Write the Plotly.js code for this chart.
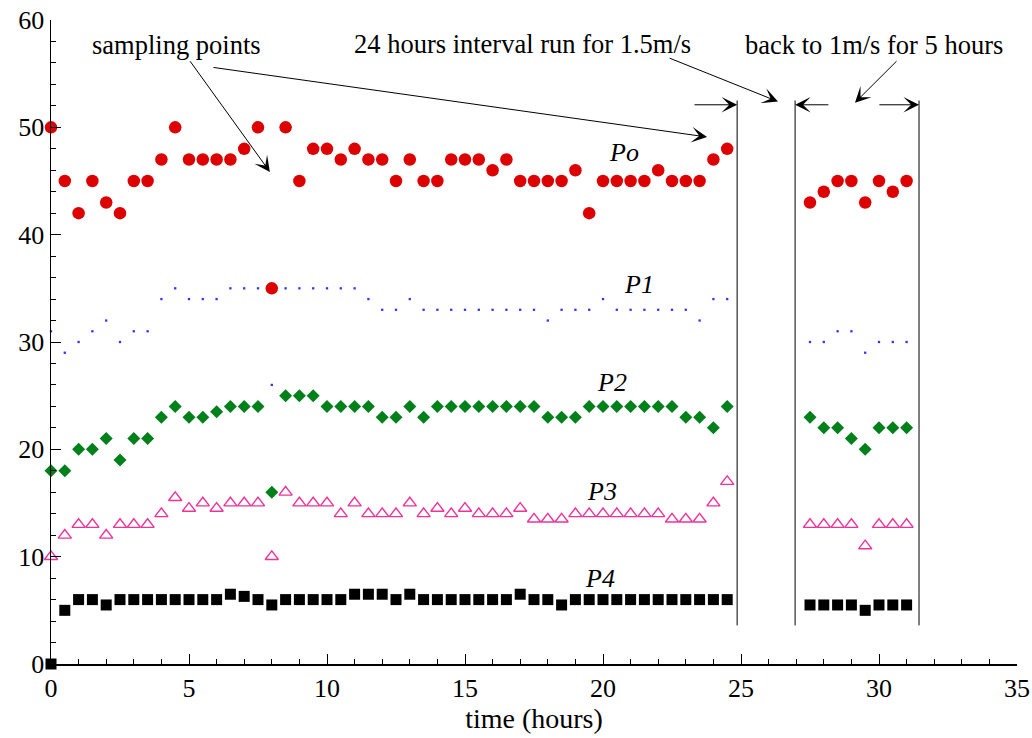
<!DOCTYPE html>
<html>
<head>
<meta charset="utf-8">
<script src="https://cdn.plot.ly/plotly-3.0.1.min.js"></script>
<style>html,body{margin:0;padding:0;background:#fff;}#chart{width:1032px;height:738px;}</style>
</head>
<body>
<div id="chart"></div>
<script>
// time (hours) – first run and second run
const timeA = [0,0.5,1,1.5,2,2.5,3,3.5,4,4.5,5,5.5,6,6.5,7,7.5,8,8.5,9,9.5,10,10.5,11,11.5,12,12.5,13,13.5,14,14.5,15,15.5,16,16.5,17,17.5,18,18.5,19,19.5,20,20.5,21,21.5,22,22.5,23,23.5,24,24.5];
const timeB = [27.5,28,28.5,29,29.5,30,30.5,31];

const PoA = [50,45,42,45,43,42,45,45,47,50,47,47,47,47,48,50,35,50,45,48,48,47,48,47,47,45,47,45,45,47,47,47,46,47,45,45,45,45,46,42,45,45,45,45,46,45,45,45,47,48];
const PoB = [43,44,45,45,43,45,44,45];

const P1A = [31,29,30,31,32,30,31,31,34,35,34,34,34,35,35,35,26,35,35,35,35,35,35,34,33,33,34,33,33,33,33,33,33,33,33,33,32,33,33,33,34,33,33,33,33,33,33,32,34,34];
const P1B = [30,30,31,31,29,30,30,30];

const P2A = [18,18,20,20,21,19,21,21,23,24,23,23,23.5,24,24,24,16,25,25,25,24,24,24,24,23,23,24,23,24,24,24,24,24,24,24,24,23,23,23,24,24,24,24,24,24,24,23,23,22,24];
const P2B = [23,22,22,21,20,22,22,22];

const P3A = [10,12,13,13,12,13,13,13,14,15.5,14.5,15,14.5,15,15,15,10,16,15,15,15,14,15,14,14,14,15,14,14.5,14,14.5,14,14,14,14.5,13.5,13.5,13.5,14,14,14,14,14,14,14,13.5,13.5,13.5,15,17];
const P3B = [13,13,13,13,11,13,13,13];

const P4A = [0,5,6,6,5.5,6,6,6,6,6,6,6,6,6.5,6.3,6,5.5,6,6,6,6,6,6.5,6.5,6.5,6,6.5,6,6,6,6,6,6,6,6.5,6,6,5.5,6,6,6,6,6,6,6,6,6,6,6,6];
const P4B = [5.5,5.5,5.5,5.5,5,5.5,5.5,5.5];

const xTicks = [0,5,10,15,20,25,30,35];
const yTicks = [0,10,20,30,40,50,60];

const serif = '"Liberation Serif", "Times New Roman", Times, serif';
const tAll = timeA.concat(timeB);

function tr(y, marker){
  return {x: tAll, y: y, type:'scatter', mode:'markers', cliponaxis:false, hoverinfo:'x+y', marker: marker};
}

const data = [
  tr(P4A.concat(P4B), {symbol:'square', size:11, color:'#000000', line:{width:0}}),
  tr(P3A.concat(P3B), {symbol:'triangle-up-open', size:11.5, color:'#ee3399', line:{width:1.4, color:'#ee3399'}}),
  tr(P2A.concat(P2B), {symbol:'diamond', size:10, color:'#00801a', line:{width:0}}),
  tr(P1A.concat(P1B), {symbol:'square', size:2.3, color:'#3333ff', line:{width:0}}),
  tr(PoA.concat(PoB), {symbol:'circle', size:12.5, color:'#dd0000', line:{width:0}})
];

const arrowBase = {text:'', showarrow:true, arrowhead:3, arrowsize:2.6, arrowwidth:1, arrowcolor:'#000', axref:'x', ayref:'y', xref:'x', yref:'y'};
function arrow(x0,y0,x1,y1){ return Object.assign({}, arrowBase, {ax:x0, ay:y0, x:x1, y:y1}); }
function label(txt,x,y,size,italic){
  return {text: italic ? '<i>'+txt+'</i>' : txt, x:x, y:y, xref:'x', yref:'y', showarrow:false,
          font:{family:serif, size:size, color:'#000'}};
}

const annotations = [
  label('sampling points', 4.53, 57.7, 26.5, false),
  label('24 hours interval run for 1.5m/s', 17.07, 57.8, 26.5, false),
  label('back to 1m/s for 5 hours', 29.82, 57.7, 26.5, false),
  label('Po', 20.76, 47.7, 26, true),
  label('P1', 21.3, 35.4, 26, true),
  label('P2', 20.33, 26.2, 26, true),
  label('P3', 19.96, 16.1, 26, true),
  label('P4', 19.9, 8.0, 26, true),
  arrow(5.83, 55.6, 23.77, 49.1),
  arrow(5.0, 56.3, 7.93, 45.85),
  arrow(22.36, 56.5, 26.34, 52.4),
  arrow(30.69, 56.3, 29.13, 52.3),
  arrow(23.26, 52.1, 24.86, 52.1),
  arrow(28.22, 52.1, 26.96, 52.1),
  arrow(29.96, 52.1, 31.45, 52.1)
];

const vline = (x) => ({type:'line', xref:'x', yref:'y', x0:x, x1:x, y0:3.6, y1:52.5, line:{color:'#000', width:1}});
const shapes = [vline(24.86), vline(26.96), vline(31.45)];

const layout = {
  width:1032, height:738,
  margin:{l:51, r:15, t:20, b:74, pad:0},
  paper_bgcolor:'#fff', plot_bgcolor:'#fff',
  showlegend:false,
  font:{family:serif, size:26, color:'#000'},
  xaxis:{
    range:[0,35], tickvals:xTicks, ticktext:xTicks.map(String),
    showgrid:false, zeroline:false, showline:true, linecolor:'#000', linewidth:1.5,
    ticks:'inside', ticklen:10, tickcolor:'#000', tickwidth:1,
    minor:{dtick:1, ticks:'inside', ticklen:5, tickcolor:'#000', tickwidth:1, showgrid:false},
    tickfont:{family:serif, size:26, color:'#000'},
    title:{text:'time (hours)', font:{family:serif, size:28, color:'#000'}, standoff:4}
  },
  yaxis:{
    range:[0,60], tickvals:yTicks, ticktext:yTicks.map(String),
    showgrid:false, zeroline:false, showline:true, linecolor:'#000', linewidth:1.5,
    ticks:'inside', ticklen:10, tickcolor:'#000', tickwidth:1,
    minor:{dtick:2, ticks:'inside', ticklen:5, tickcolor:'#000', tickwidth:1, showgrid:false},
    tickfont:{family:serif, size:26, color:'#000'}
  },
  annotations: annotations,
  shapes: shapes
};

Plotly.newPlot('chart', data, layout, {displayModeBar:false, staticPlot:true});
</script>
</body>
</html>
